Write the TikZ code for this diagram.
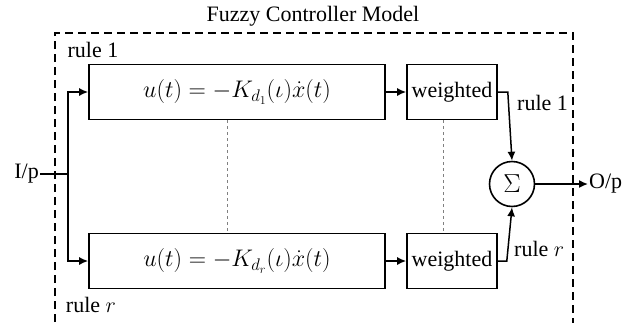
\documentclass[tikz,border=0pt]{standalone}
\usepackage{fix-cm}
\usepackage{amsmath}
\usepackage{fontspec}
\setmainfont{Liberation Serif}
\usepackage{tikz}
\usetikzlibrary{positioning,arrows.meta}

\begin{document}
\begin{tikzpicture}[x=1pt, y=-1pt,
  blk/.style  = {draw, line width=1.6pt, minimum height=55pt, inner sep=0pt},
  sumc/.style = {draw, circle, line width=1.6pt, minimum size=45pt, inner sep=0pt},
  arr/.style  = {-{Latex[length=9pt,width=8pt]}, line width=1.5pt},
  lnk/.style  = {line width=1.5pt},
  sep/.style  = {gray, dashed, line width=0.7pt},
  frm/.style  = {line width=1.9pt, dash pattern=on 8pt off 5pt},
  txt/.style  = {font=\fontsize{22}{24}\selectfont, inner sep=1pt},
  eqn/.style  = {font=\fontsize{24}{26}\selectfont}
]
\useasboundingbox (0,0) rectangle (635,322);

% --- cadre du modele ---
\draw[frm] (55,335) -- (55,33) -- (573,33) -- (573,335);
\node[txt] (title) at (313,16) {Fuzzy Controller Model};

% --- regle 1 ---
\node[blk, minimum width=296pt, eqn] (ctl1) at (237,92) {$u(t)=-K_{d_1}(\iota)\dot{x}(t)$};
\node[blk, minimum width=90pt, txt] (wgt1) at (452,92) {weighted};
\node[txt] (lab1) at (93,50) {rule 1};

% --- regle r ---
\node[blk, minimum width=296pt, eqn] (ctl2) at (237,261) {$u(t)=-K_{d_r}(\iota)\dot{x}(t)$};
\node[blk, minimum width=90pt, txt] (wgt2) at (452,261) {weighted};
\node[txt] (labr) at (91,305) {rule $r$};

% --- somme, entree, sortie ---
\node[sumc, font=\fontsize{26}{28}\selectfont] (sum) at (512,184) {$\Sigma$};
\node[txt, anchor=east] (inp) at (40,174) {I/p};
\node[txt, anchor=west] (outp) at (588,184) {O/p};
\coordinate (split) at (68,176);

% --- liaisons ---
\draw[lnk] (inp.east) -- (inp.east -| split);
\draw[arr] (inp.east -| split) |- (ctl1.west);
\draw[arr] (inp.east -| split) |- (ctl2.west);
\draw[arr] (ctl1) -- (wgt1);
\draw[arr] (ctl2) -- (wgt2);
\draw[arr] (wgt1.east) -- ++(10,0) -- (sum.north);
\draw[arr] (wgt2.east) -- ++(9,0) -- (sum.south);
\draw[arr] (sum) -- (outp);
\node[txt, anchor=west] (lw1) at (516,103) {rule 1};
\node[txt, anchor=west] (lwr) at (513,249) {rule $r$};

% --- pointilles entre les regles ---
\draw[sep] ([xshift=-10pt]ctl1.south) -- ([xshift=-10pt]ctl2.north);
\draw[sep] ([xshift=-9pt]wgt1.south) -- ([xshift=-9pt]wgt2.north);
\end{tikzpicture}
\end{document}
